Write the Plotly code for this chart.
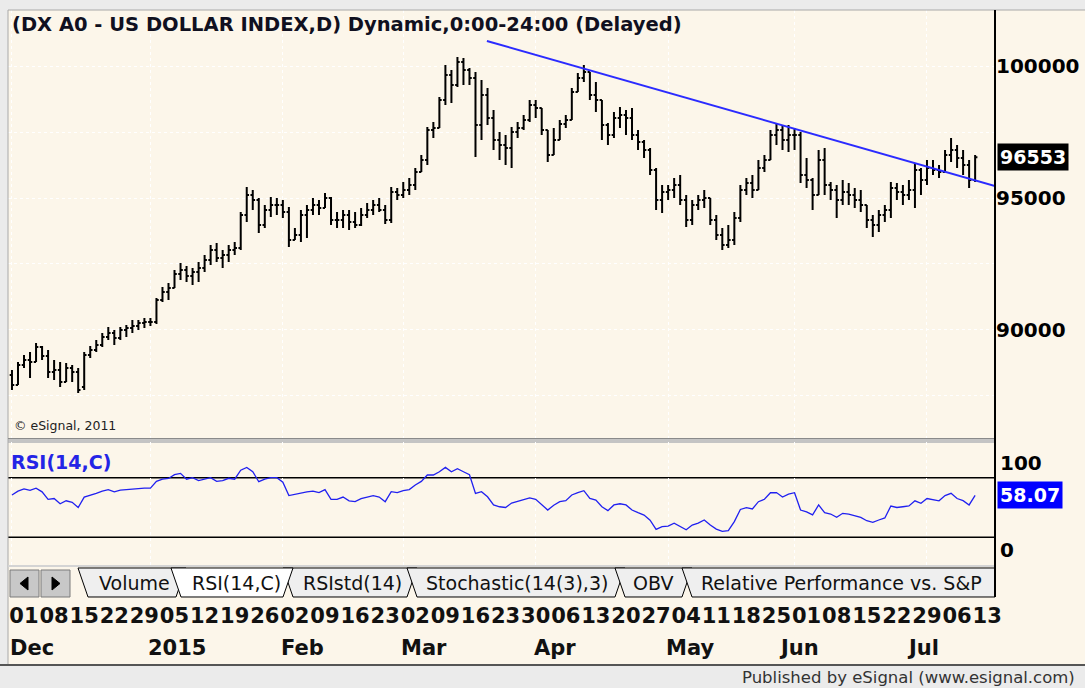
import pandas as pd
import plotly.graph_objects as go

W, H = 1085, 688

# trading days (weekdays), Dec 1 2014 .. Jul 13 2015
dates = pd.bdate_range("2014-12-01", "2015-07-13")

opens = [
    88274, 87894, 88654, 88844, 88768, 89338, 88996, 88388, 88464, 88008,
    88540, 88388, 87818, 89034, 89224, 89414, 89718, 89870, 89680, 89984,
    90060, 90136, 90250, 90288, 90288, 91124, 91428, 91580, 92112, 92264,
    92036, 92188, 92340, 92644, 93024, 92720, 92834, 93024, 93100, 94354,
    95114, 94924, 93974, 94544, 94734, 94734, 94468, 93404, 93594, 94354,
    94544, 94734, 94620, 95000, 94164, 94164, 94354, 94088, 93974, 94354,
    94544, 94734, 94544, 94164, 95228, 95114, 95304, 95494, 95988, 96444,
    97584, 97660, 98724, 99674, 99294, 100168, 99864, 99560, 97774, 98914,
    98040, 97204, 97014, 96900, 97508, 97660, 97964, 98534, 98420, 97584,
    96634, 97204, 97812, 97964, 99028, 99560, 99788, 98914, 98724, 97774,
    97394, 98040, 98154, 98040, 97394, 97128, 96824, 96064, 94924, 95228,
    95304, 95494, 94924, 94164, 94734, 94924, 95000, 94164, 93594, 93214,
    93404, 94240, 95304, 95570, 95304, 96140, 96444, 97394, 97584, 97204,
    97394, 97394, 95874, 95684, 95114, 96444, 95494, 95304, 94924, 95228,
    95114, 94924, 94734, 94164, 93974, 94354, 94544, 95380, 95228, 95114,
    95304, 96064, 95684, 96140, 96064, 95988, 96634, 96824, 96520, 96254,
    95684,
]
highs = [
    88464, 88768, 89034, 89148, 89490, 89376, 89224, 88844, 88768, 88730,
    88654, 88540, 89148, 89376, 89604, 89870, 90098, 89984, 90098, 90174,
    90364, 90364, 90440, 90440, 91200, 91618, 91770, 92264, 92530, 92416,
    92340, 92568, 92834, 93214, 93290, 93024, 93214, 93328, 94468, 95418,
    95304, 95000, 94734, 95038, 95000, 94924, 94658, 93860, 94544, 94734,
    95000, 94924, 95190, 95038, 94468, 94544, 94544, 94468, 94620, 94810,
    94924, 95000, 94734, 95418, 95380, 95608, 95760, 96140, 96634, 97698,
    97888, 98838, 100054, 99864, 100358, 100320, 99940, 99788, 99484, 99180,
    98344, 97508, 97394, 97698, 97888, 98154, 98724, 98724, 98420, 97584,
    97660, 97964, 98154, 99180, 99750, 100054, 99788, 99408, 98724, 97850,
    98268, 98458, 98344, 98420, 97584, 97204, 96900, 96140, 95494, 95494,
    95760, 95874, 95114, 94924, 95114, 95304, 95000, 94354, 93860, 93974,
    94468, 95494, 95760, 95874, 96444, 96634, 97584, 97850, 97774, 97774,
    97660, 97508, 96520, 95760, 96824, 96900, 95608, 95494, 95684, 95570,
    95380, 95304, 94734, 94354, 94544, 94734, 95608, 95570, 95494, 95684,
    96330, 96140, 96444, 96444, 96254, 96824, 97280, 97014, 96824, 96444,
    96634,
]
lows = [
    87704, 87894, 88540, 88160, 88768, 88844, 88160, 88084, 87818, 88008,
    88008, 87590, 87704, 88920, 89148, 89338, 89604, 89414, 89604, 89718,
    89870, 89984, 90060, 90136, 90212, 91048, 91124, 91580, 91884, 91808,
    91694, 91808, 92188, 92454, 92568, 92340, 92568, 92834, 93024, 94088,
    94544, 93670, 93860, 94278, 94354, 94240, 93138, 93404, 93328, 93480,
    94354, 94354, 94620, 93974, 93860, 93860, 93784, 93860, 93936, 94240,
    94354, 94468, 94012, 94050, 94924, 95000, 95114, 95304, 95988, 96254,
    97280, 97660, 98534, 98610, 99218, 99294, 99294, 96558, 97204, 97774,
    96824, 96444, 96254, 96140, 97280, 97584, 97888, 98040, 97394, 96368,
    96634, 97204, 97660, 97964, 99028, 99408, 98724, 98268, 97204, 97014,
    97280, 97660, 97394, 97204, 96824, 96520, 95874, 94544, 94430, 94924,
    95000, 94734, 93898, 93974, 94544, 94620, 93974, 93404, 93024, 93100,
    93214, 94088, 95114, 95000, 95304, 95988, 96444, 97014, 96824, 96748,
    96824, 95570, 95380, 94544, 95114, 95114, 94924, 94240, 94734, 94734,
    94620, 94468, 93860, 93518, 93708, 94088, 94240, 94924, 94734, 94924,
    94620, 95114, 95494, 95874, 95760, 95988, 96368, 96140, 95874, 95380,
    95608,
]
closes = [
    87894, 88654, 88844, 88768, 89338, 88996, 88388, 88464, 88008, 88540,
    88388, 87704, 89034, 89224, 89414, 89718, 89870, 89680, 89984, 90060,
    90136, 90250, 90288, 90288, 91124, 91428, 91580, 92112, 92264, 92036,
    92188, 92340, 92644, 93024, 92720, 92834, 93024, 93100, 94354, 95114,
    94924, 93974, 94544, 94734, 94734, 94468, 93404, 93594, 94354, 94544,
    94734, 94620, 95000, 94164, 94164, 94354, 94088, 93974, 94354, 94544,
    94734, 94544, 94164, 95228, 95114, 95304, 95494, 95988, 96444, 97584,
    97660, 98724, 99674, 99294, 100168, 99864, 99560, 97774, 98914, 98040,
    97204, 97014, 96900, 97508, 97660, 97964, 98534, 98420, 97584, 96634,
    97204, 97812, 97964, 99028, 99560, 99788, 98914, 98724, 97774, 97394,
    98040, 98154, 98040, 97394, 97128, 96824, 96064, 94924, 95228, 95304,
    95494, 94924, 94164, 94734, 94924, 95000, 94164, 93594, 93214, 93404,
    94240, 95304, 95570, 95304, 96140, 96444, 97394, 97584, 97204, 97394,
    97394, 95874, 95684, 95114, 96444, 95494, 95304, 94924, 95228, 95114,
    94924, 94734, 94164, 93974, 94354, 94544, 95380, 95228, 95114, 95304,
    96064, 95684, 96140, 96064, 95988, 96634, 96824, 96520, 96254, 95684,
    96553,
]
rsi = [
    58.4, 61.0, 62.5, 61.5, 63.0, 60.5, 55.5, 56.0, 52.5, 54.5,
    53.5, 50.0, 57.0, 58.0, 59.5, 61.0, 62.0, 60.5, 61.7, 62.0,
    62.5, 63.0, 63.0, 63.0, 67.5, 69.0, 69.5, 72.0, 72.9, 69.0,
    70.0, 68.0, 69.0, 70.0, 67.5, 68.0, 69.6, 69.0, 75.0, 76.9,
    74.0, 67.3, 69.0, 70.0, 70.0, 67.0, 58.0, 59.0, 59.5, 60.5,
    61.0, 60.0, 62.0, 55.5, 55.5, 57.0, 54.5, 54.0, 56.0, 57.0,
    58.0, 57.0, 53.9, 60.6, 60.0, 61.3, 62.0, 65.1, 67.5, 71.8,
    71.8, 74.0, 76.9, 74.0, 76.0, 74.0, 72.0, 59.5, 60.6, 57.2,
    51.7, 50.5, 50.0, 53.0, 54.0, 55.0, 56.5, 55.5, 51.7, 48.3,
    51.5, 53.9, 54.6, 58.4, 60.0, 61.3, 56.1, 55.0, 50.5, 47.9,
    51.7, 52.5, 51.7, 48.3, 46.5, 44.9, 41.5, 35.3, 37.1, 37.5,
    39.4, 37.0, 35.0, 38.2, 39.5, 41.6, 38.2, 35.5, 34.0, 34.4,
    40.5, 48.7, 49.9, 49.0, 53.9, 55.5, 59.9, 60.0, 57.0, 59.0,
    59.9, 48.3, 47.0, 45.0, 51.7, 46.5, 45.6, 43.4, 46.1, 45.6,
    44.5, 43.4, 41.1, 40.0, 41.6, 43.0, 51.0, 50.0, 50.5, 51.0,
    54.5, 52.8, 56.0, 55.0, 54.5, 58.0, 59.5, 56.0, 54.6, 51.7,
    58.07,
]

# hand-drawn trendline (bar position, price)
trend_x = [78.9, 163.3]
trend_y = [100966, 95456]

rsi_levels = [70, 30]
month_names = ["Dec", "2015", "Feb", "Mar", "Apr", "May", "Jun", "Jul"]
# bar positions where eSignal starts each month label
month_label_pos = [0, 23, 45, 65, 87, 109, 127.8, 149]
tab_names = ["Volume", "RSI(14,C)", "RSIstd(14)", "Stochastic(14(3),3)", "OBV",
             "Relative Performance vs. S&P"]
last_price_text = "96553"
last_rsi_text = "58.07"

idx = list(range(len(dates)))
mondays = [i for i, d in enumerate(dates) if d.weekday() == 0]
day_text = [f"{dates[i].day:02d}" for i in mondays]
month_starts = [i for i, d in enumerate(dates) if i == 0 or d.month != dates[i - 1].month]

BG = "#fcf6ea"
FRAME = "#ebebeb"
FONT = "DejaVu Sans"
XR = [-0.66, 163.3]


def px(x):
    return x / W


def py(y):
    return 1 - y / H


def rect(x0, y0, x1, y1, fill, line=None, lw=1):
    return dict(type="rect", xref="paper", yref="paper", x0=px(x0), x1=px(x1), y0=py(y0), y1=py(y1),
                fillcolor=fill, line=dict(color=line or fill, width=lw if line else 0), layer="below")


def hline(x0, x1, y, color, w=1):
    return dict(type="line", xref="paper", yref="paper", x0=px(x0), x1=px(x1), y0=py(y), y1=py(y),
                line=dict(color=color, width=w))


def vline(x, y0, y1, color, w=1):
    return dict(type="line", xref="paper", yref="paper", x0=px(x), x1=px(x), y0=py(y0), y1=py(y1),
                line=dict(color=color, width=w))


def poly(pts, fill, line="black"):
    path = "M " + " L ".join(f"{px(a):.5f},{py(b):.5f}" for a, b in pts) + " Z"
    return dict(type="path", xref="paper", yref="paper", path=path, fillcolor=fill,
                line=dict(color=line, width=1))


fig = go.Figure()
fig.add_trace(go.Ohlc(
    x=idx, open=opens, high=highs, low=lows, close=closes,
    increasing_line_color="black", decreasing_line_color="black",
    line_width=2, tickwidth=0.38, hoverinfo="skip",
))
fig.add_trace(go.Scatter(x=trend_x, y=trend_y, mode="lines", line=dict(color="#2b2bff", width=2),
                         hoverinfo="skip"))
fig.add_trace(go.Scatter(x=idx, y=rsi, mode="lines", xaxis="x2", yaxis="y2",
                         line=dict(color="#2020f0", width=1.3), hoverinfo="skip"))

grid = dict(showgrid=True, gridcolor="#ffffff", griddash="dot", gridwidth=1)

fig.update_layout(
    template="none", width=W, height=H, margin=dict(l=0, r=0, t=0, b=0),
    paper_bgcolor=BG, plot_bgcolor=BG, showlegend=False,
    xaxis=dict(domain=[px(8), px(995)], range=XR, anchor="y", showticklabels=False,
               tickmode="array", tickvals=month_starts, ticks="", zeroline=False,
               rangeslider=dict(visible=False), automargin=False, **grid),
    yaxis=dict(domain=[py(438), py(10)], range=[85880, 102144], anchor="x", side="right",
               tick0=0, dtick=5000, tickformat="d", ticks="", zeroline=False, automargin=False,
               tickfont=dict(family=FONT, size=20, color="black", weight="bold"),
               minor=dict(dtick=2500, **grid), **grid),
    xaxis2=dict(domain=[px(8), px(995)], range=XR, anchor="y2", tickmode="array",
                tickvals=mondays, ticktext=day_text, tickangle=0, ticks="", zeroline=False,
                showgrid=False, ticklabelshift=12, ticklabelstandoff=36, automargin=False,
                tickfont=dict(family=FONT, size=21, color="#111", weight="bold"),
                minor=dict(tickmode="array", tickvals=month_starts, **grid)),
    yaxis2=dict(domain=[py(565), py(442)], range=[11.4, 93.96], anchor="x2", side="right",
                showticklabels=False, showgrid=False, zeroline=False, ticks="", automargin=False),
)

shapes = [
    rect(0, 0, W, 10, FRAME),
    rect(0, 0, 8, 665, FRAME),
    rect(0, 665, W, H, FRAME),
    hline(8, W, 10, "#a8a8a8"),
    vline(8, 10, 665, "#a8a8a8"),
    rect(8, 438.5, 995, 443, "#c4c4c4"),
    hline(8, 995, 438.5, "#8a8a8a"),
    hline(8, 995, 566, "#d4d4d4", 2),
    hline(0, W, 665, "#555555", 2),
]
for lv in rsi_levels:
    shapes.append(dict(type="line", xref="x2 domain", yref="y2", x0=0, x1=1, y0=lv, y1=lv,
                       line=dict(color="black", width=1.5), layer="below"))

# tab strip
tab_geom = [(78, 186), (171, 293), (283, 417), (407, 625), (615, 692), (682, 995)]
active = 1
for k, (a, b) in enumerate(tab_geom):
    if k == active:
        continue
    right_bottom = b if k == len(tab_geom) - 1 else b - 10
    shapes.append(poly([(a, 568), (b, 568), (right_bottom, 597), (a + 10, 597)], "#efefef"))
a, b = tab_geom[active]
shapes.append(poly([(a, 568), (b, 568), (b - 10, 597), (a + 10, 597)], "#ffffff"))
shapes.append(rect(10, 570, 39, 597, "#c8c8c8", "#7a7a7a"))
shapes.append(rect(41, 570, 70, 597, "#c8c8c8", "#7a7a7a"))
shapes.append(poly([(20, 583.5), (28, 577), (28, 590)], "black"))
shapes.append(poly([(52, 577), (52, 590), (60, 583.5)], "black"))
shapes.append(vline(995, 10, 597, "black", 2))

annotations = [
    dict(text="(DX A0 - US DOLLAR INDEX,D) Dynamic,0:00-24:00 (Delayed)", x=px(10), y=py(25),
         xanchor="left", yanchor="middle", font=dict(family=FONT, size=19.5, color="#101020", weight="bold")),
    dict(text="© eSignal, 2011", x=px(12), y=py(425), xanchor="left", yanchor="middle",
         font=dict(family=FONT, size=12.5, color="#222")),
    dict(text="RSI(14,C)", x=px(9), y=py(462), xanchor="left", yanchor="middle",
         font=dict(family=FONT, size=19, color="#2424e6", weight="bold")),
    dict(text=last_price_text, x=px(997), y=float(closes[-1]), yref="y", xanchor="left", yanchor="middle",
         bgcolor="black", borderpad=2, font=dict(family=FONT, size=19, color="white", weight="bold")),
    dict(text=last_rsi_text, x=px(997), y=rsi[-1], yref="y2", xanchor="left", yanchor="middle",
         bgcolor="#0000ff", borderpad=2, font=dict(family=FONT, size=19, color="white", weight="bold")),
    dict(text="100", x=px(998), y=py(463), xanchor="left", yanchor="middle",
         font=dict(family=FONT, size=20, color="black", weight="bold")),
    dict(text="0", x=px(998), y=py(550), xanchor="left", yanchor="middle",
         font=dict(family=FONT, size=20, color="black", weight="bold")),
    dict(text="Published by eSignal (www.esignal.com)", x=px(1077), y=py(677), xanchor="right",
         yanchor="middle", font=dict(family=FONT, size=16.5, color="#333")),
]
for name, pos in zip(month_names, month_label_pos):
    annotations.append(dict(text=name, x=pos, xref="x2", y=py(648), xanchor="left", yanchor="middle",
                            xshift=-4, font=dict(family=FONT, size=21, color="#111", weight="bold")))
tab_centers = [134, 236, 352, 517, 653, 841]
for name, cx in zip(tab_names, tab_centers):
    annotations.append(dict(text=name, x=px(cx), y=py(583), xanchor="center", yanchor="middle",
                            font=dict(family=FONT, size=19, color="#111")))
for an in annotations:
    an.setdefault("xref", "paper")
    an.setdefault("yref", "paper")
    an["showarrow"] = False

fig.update_layout(shapes=shapes, annotations=annotations)
# the page's default 8px body margin would shift the whole picture
fig.write_html("out.html", config={"displayModeBar": False},
               post_script="document.body.style.margin='0px';")
